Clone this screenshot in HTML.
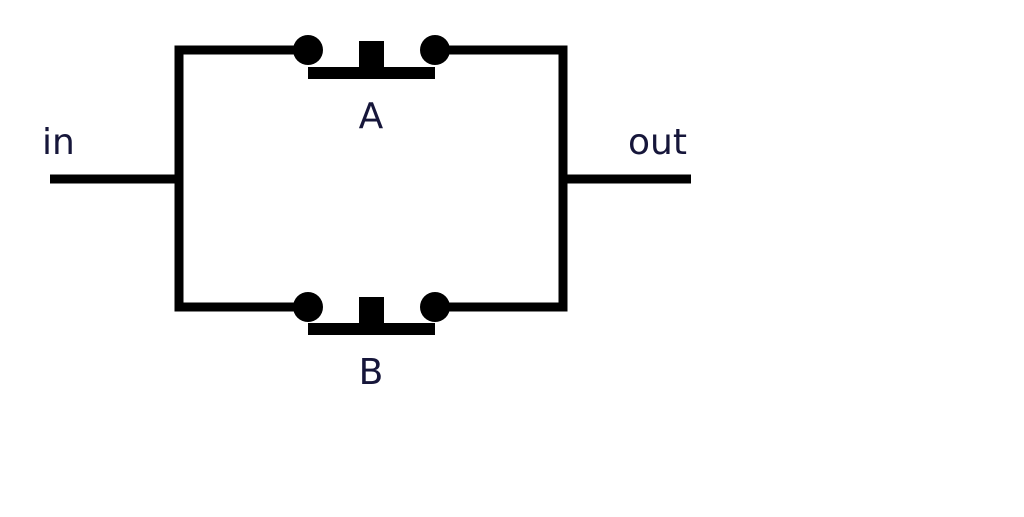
<!DOCTYPE html>
<html><head><style>body{margin:0;background:#fff}</style></head><body>
<svg width="1024" height="512" xmlns="http://www.w3.org/2000/svg">
<g stroke="#000" stroke-width="9" fill="none">
<polyline points="308,50 179,50 179,307 308,307"/>
<polyline points="435,50 563,50 563,307 435,307"/>
<line x1="50" y1="179" x2="179" y2="179"/>
<line x1="563" y1="179" x2="691" y2="179"/>
</g>
<g fill="#000">
<circle cx="308" cy="50" r="15"/><circle cx="435" cy="50" r="15"/>
<rect x="308" y="67" width="127" height="12"/><rect x="359" y="41" width="25" height="27"/>
<circle cx="308" cy="307" r="15"/><circle cx="435" cy="307" r="15"/>
<rect x="308" y="323" width="127" height="12"/><rect x="359" y="297" width="25" height="27"/>
</g>
<g fill="#16163a" font-family="DejaVu Sans, sans-serif" font-size="36">
<text x="42" y="154">in</text>
<text x="628" y="154">out</text>
<text x="371" y="128" text-anchor="middle">A</text>
<text x="371" y="384" text-anchor="middle">B</text>
</g>
</svg>
</body></html>
